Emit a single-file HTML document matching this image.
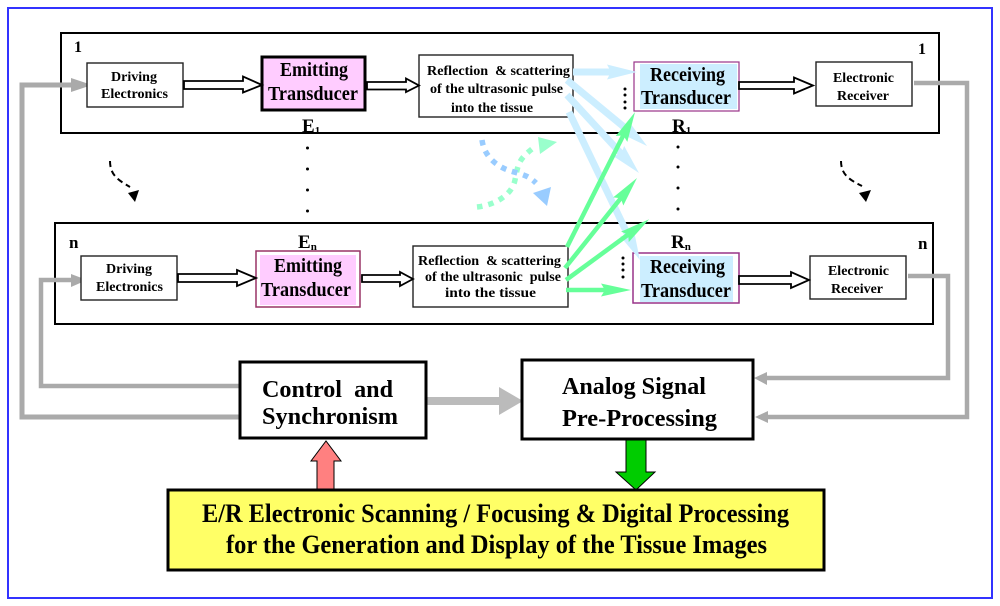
<!DOCTYPE html>
<html>
<head>
<meta charset="utf-8">
<style>
html,body{margin:0;padding:0;background:#fff;width:1000px;height:606px;overflow:hidden}
svg{display:block;filter:blur(.35px)}
text{font-family:"Liberation Serif",serif;font-weight:bold;fill:#000}
.s{font-size:14px}.m{font-size:20px}.l{font-size:24px}.y{font-size:26px}
</style>
</head>
<body>
<svg width="1000" height="606" viewBox="0 0 1000 606" xmlns="http://www.w3.org/2000/svg">
<defs>
<marker id="gh" markerUnits="userSpaceOnUse" markerWidth="34" markerHeight="18" refX="10" refY="8" orient="auto"><path d="M0,1.5 L30,8 L0,14.5 L4,8 Z" fill="#66ff99"/></marker>
<marker id="bh" markerUnits="userSpaceOnUse" markerWidth="34" markerHeight="18" refX="10" refY="8" orient="auto"><path d="M0,0.5 L30,8 L0,15.5 L4,8 Z" fill="#cceeff"/></marker>
</defs>
<rect width="1000" height="606" fill="#fff"/>
<rect x="8" y="8" width="984" height="590" fill="none" stroke="#3333ff" stroke-width="2"/>

<!-- panels -->
<rect x="61" y="33" width="878" height="100" fill="none" stroke="#000" stroke-width="2"/>
<rect x="55" y="223" width="878" height="101" fill="none" stroke="#000" stroke-width="2"/>

<!-- gray lines -->
<g fill="none" stroke="#aaa" stroke-linejoin="miter">
<path d="M240,417 H22 V85 H75" stroke-width="5"/>
<path d="M240,386 H41 V280 H72" stroke-width="4.5"/>
<path d="M914,83 H967 V417 H765" stroke-width="4.5"/>
<path d="M908,276 H948 V378 H765" stroke-width="4.5"/>
</g>
<polygon points="71,78 92,85 71,92" fill="#aaa"/>
<polygon points="71,274 87,280 71,287" fill="#aaa"/>
<polygon points="755,417 768,411 768,423" fill="#aaa"/>
<polygon points="754,378 767,372 767,385" fill="#aaa"/>
<rect x="427" y="397" width="75" height="8" fill="#bbb"/>
<polygon points="499,387 523,401 499,415" fill="#bbb"/>

<!-- row boxes -->
<g stroke="#222" stroke-width="1.4" fill="#fff">
<rect x="87" y="63" width="96" height="44"/>
<rect x="419" y="55" width="154" height="62"/>
<rect x="816" y="62" width="96" height="44"/>
<rect x="81" y="256" width="96" height="44"/>
<rect x="413" y="246" width="155" height="61"/>
<rect x="810" y="256" width="96" height="43"/>
</g>
<rect x="262" y="57" width="103" height="53" fill="#ffccff" stroke="#000" stroke-width="3"/>
<rect x="634" y="62" width="105" height="49" fill="#fff" stroke="#993388" stroke-width="1.2"/>
<rect x="640" y="64" width="97" height="45" fill="#cceeff"/>
<rect x="256" y="251" width="104" height="56" fill="#fff" stroke="#993366" stroke-width="1.5"/>
<rect x="260" y="255" width="96" height="50" fill="#ffccff"/>
<rect x="633" y="253" width="106" height="50" fill="#fff" stroke="#993388" stroke-width="1.5"/>
<rect x="640" y="256" width="93" height="46" fill="#cceeff"/>

<!-- hollow arrows -->
<g fill="#fff" stroke="#000" stroke-width="1.8">
<path d="M184,81 H243 V76.5 L262,85 L243,92.5 V89 H184 Z"/>
<path d="M367,82 H406 V78.5 L419,85.5 L406,92 V89.5 H367 Z"/>
<path d="M739,82 H794 V77.5 L813,85.5 L794,93.5 V89 H739 Z"/>
<path d="M178,274 H237 V270 L256,278 L237,286 V282 H178 Z"/>
<path d="M362,275 H400 V272 L413,279 L400,286 V282 H362 Z"/>
<path d="M739,276 H791 V272 L809,280 L791,288 V284 H739 Z"/>
</g>

<!-- blue fan arrows -->
<g stroke="#cceeff" stroke-width="7" fill="none">
<line x1="573" y1="72" x2="617" y2="72" marker-end="url(#bh)"/>
<line x1="567" y1="80" x2="631.6" y2="133.3" marker-end="url(#bh)"/>
<line x1="567" y1="95" x2="625.4" y2="158.3" marker-end="url(#bh)"/>
<line x1="569" y1="112" x2="631.3" y2="242" marker-end="url(#bh)"/>
</g>
<!-- green fan arrows -->
<g stroke="#66ff99" stroke-width="4.5" fill="none">
<line x1="567" y1="247" x2="626" y2="130" marker-end="url(#gh)"/>
<line x1="565" y1="268" x2="624.5" y2="193.6" marker-end="url(#gh)"/>
<line x1="566" y1="280" x2="633" y2="231" marker-end="url(#gh)"/>
<line x1="566" y1="290" x2="611" y2="290" marker-end="url(#gh)"/>
</g>

<!-- dotted curves -->
<path d="M477,207 C495,205 512,195 515,180 C518,165 518,160 532,149" fill="none" stroke="#99ffcc" stroke-width="5.5" stroke-dasharray="5.5 6"/>
<polygon points="538,137 557,142 540,154" fill="#99ffcc"/>
<path d="M482,140 C484,155 495,167 514,172 C525,175 530,177 536,183" fill="none" stroke="#99ccff" stroke-width="5.5" stroke-dasharray="5.5 6"/>
<polygon points="533,193 551,187 547,206" fill="#99ccff"/>

<!-- black dashed curves -->
<path d="M110,161 C110,175 118,180 130,187" fill="none" stroke="#000" stroke-width="2" stroke-dasharray="6 4"/>
<polygon points="128,193 139,190 135,202" fill="#000"/>
<path d="M841,161 C841,175 850,180 862,186" fill="none" stroke="#000" stroke-width="2" stroke-dasharray="6 4"/>
<polygon points="859,193 871,190 866,202" fill="#000"/>

<!-- dots -->
<g fill="#000">
<circle cx="307.5" cy="148" r="1.5"/><circle cx="307.5" cy="169" r="1.5"/><circle cx="307.5" cy="190" r="1.5"/><circle cx="307.5" cy="211" r="1.5"/>
<circle cx="678" cy="147" r="1.5"/><circle cx="678" cy="167" r="1.5"/><circle cx="678" cy="188" r="1.5"/><circle cx="678" cy="209" r="1.5"/>
<circle cx="625" cy="89" r="1.5"/><circle cx="625" cy="95" r="1.5"/><circle cx="625" cy="102" r="1.5"/><circle cx="625" cy="108" r="1.5"/>
<circle cx="623" cy="258" r="1.5"/><circle cx="623" cy="264" r="1.5"/><circle cx="623" cy="270" r="1.5"/><circle cx="623" cy="277" r="1.5"/>
</g>

<!-- bottom boxes -->
<rect x="240" y="362" width="186" height="76" fill="#fff" stroke="#000" stroke-width="3"/>
<rect x="522" y="360" width="231" height="79" fill="#fff" stroke="#000" stroke-width="3"/>
<path d="M317,490 V461 H311 L326,441 L341,461 H334 V490 Z" fill="#ff8080" stroke="#000" stroke-width="1"/>
<path d="M626,440 V472 H616 L636,490 L655,472 H646 V440 Z" fill="#00cc00" stroke="#000" stroke-width="1"/>
<rect x="168" y="490" width="656" height="80" fill="#ffff66" stroke="#000" stroke-width="3"/>

<!-- text -->
<text class="s" x="74" y="52" style="font-size:16px">1</text>
<text class="s" x="918" y="54" style="font-size:16px">1</text>
<text class="s" x="69" y="248" style="font-size:17px">n</text>
<text class="s" x="918" y="249" style="font-size:17px">n</text>

<text class="s" x="111" y="81" textLength="46" lengthAdjust="spacingAndGlyphs">Driving</text>
<text class="s" x="101" y="98" textLength="67" lengthAdjust="spacingAndGlyphs">Electronics</text>
<text class="s" x="106" y="273" textLength="46" lengthAdjust="spacingAndGlyphs">Driving</text>
<text class="s" x="96" y="291" textLength="67" lengthAdjust="spacingAndGlyphs">Electronics</text>

<text class="s" x="427" y="75" textLength="143" lengthAdjust="spacingAndGlyphs" xml:space="preserve">Reflection  &amp; scattering</text>
<text class="s" x="430" y="93" textLength="133" lengthAdjust="spacingAndGlyphs">of the ultrasonic pulse</text>
<text class="s" x="451" y="112" textLength="82" lengthAdjust="spacingAndGlyphs">into the tissue</text>
<text class="s" x="418" y="265" textLength="143" lengthAdjust="spacingAndGlyphs" xml:space="preserve">Reflection  &amp; scattering</text>
<text class="s" x="425" y="281" textLength="136" lengthAdjust="spacingAndGlyphs" xml:space="preserve">of the ultrasonic  pulse</text>
<text class="s" x="445" y="297" textLength="91" lengthAdjust="spacingAndGlyphs">into the tissue</text>

<text class="s" x="833" y="82" textLength="61" lengthAdjust="spacingAndGlyphs">Electronic</text>
<text class="s" x="837" y="100" textLength="52" lengthAdjust="spacingAndGlyphs">Receiver</text>
<text class="s" x="828" y="275" textLength="61" lengthAdjust="spacingAndGlyphs">Electronic</text>
<text class="s" x="831" y="293" textLength="52" lengthAdjust="spacingAndGlyphs">Receiver</text>

<text class="m" x="280" y="76" textLength="68" lengthAdjust="spacingAndGlyphs">Emitting</text>
<text class="m" x="268" y="100" textLength="90" lengthAdjust="spacingAndGlyphs">Transducer</text>
<text class="m" x="274" y="272" textLength="68" lengthAdjust="spacingAndGlyphs">Emitting</text>
<text class="m" x="261" y="296" textLength="90" lengthAdjust="spacingAndGlyphs">Transducer</text>
<text class="m" x="650" y="81" textLength="75" lengthAdjust="spacingAndGlyphs">Receiving</text>
<text class="m" x="641" y="104" textLength="90" lengthAdjust="spacingAndGlyphs">Transducer</text>
<text class="m" x="650" y="273" textLength="75" lengthAdjust="spacingAndGlyphs">Receiving</text>
<text class="m" x="641" y="297" textLength="90" lengthAdjust="spacingAndGlyphs">Transducer</text>

<text x="302" y="132" style="font-size:19px">E<tspan dy="2" style="font-size:11px">1</tspan></text>
<text x="672" y="132" style="font-size:19px">R<tspan dy="2" style="font-size:11px">1</tspan></text>
<text x="298" y="248" style="font-size:19px">E<tspan dy="2" style="font-size:11px">n</tspan></text>
<text x="671" y="248" style="font-size:19px">R<tspan dy="2" style="font-size:11px">n</tspan></text>

<text class="l" x="262" y="397" textLength="131" lengthAdjust="spacingAndGlyphs" xml:space="preserve">Control  and</text>
<text class="l" x="262" y="424" textLength="136" lengthAdjust="spacingAndGlyphs">Synchronism</text>
<text class="l" x="562" y="394" textLength="144" lengthAdjust="spacingAndGlyphs">Analog Signal</text>
<text class="l" x="562" y="426" textLength="155" lengthAdjust="spacingAndGlyphs">Pre-Processing</text>
<text class="y" x="202" y="522" textLength="587" lengthAdjust="spacingAndGlyphs">E/R Electronic Scanning / Focusing &amp; Digital Processing</text>
<text class="y" x="226" y="553" textLength="541" lengthAdjust="spacingAndGlyphs">for the Generation and Display of the Tissue Images</text>
</svg>
</body>
</html>
